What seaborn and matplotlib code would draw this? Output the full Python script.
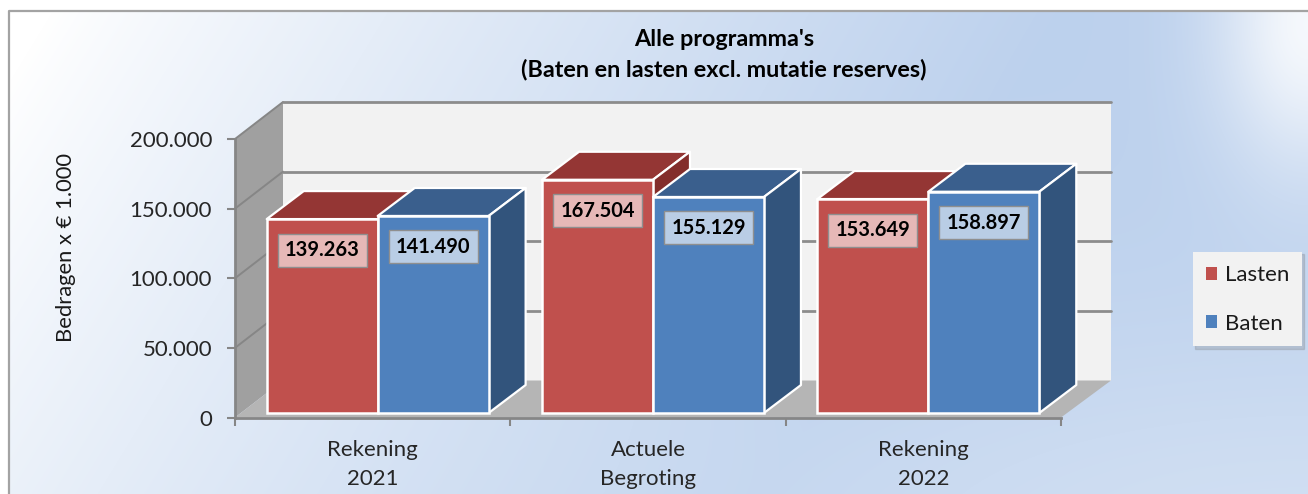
import numpy as np
import pandas as pd
import seaborn as sns
import matplotlib
matplotlib.use("Agg")
import matplotlib.pyplot as plt
from matplotlib.patches import Polygon, Rectangle
from matplotlib.transforms import Affine2D, IdentityTransform

categories = ["Rekening\n2021", "Actuele\nBegroting", "Rekening\n2022"]
lasten = [139263, 167504, 153649]
baten = [141490, 155129, 158897]
y_ticks = [0, 50000, 100000, 150000, 200000]

W, H = 1308, 494
RED, BLUE = "#C0504D", "#4F81BD"
shades = {"top": ["#943634", "#3A5F8D"], "side": ["#832D2B", "#32547C"], "box": ["#E6B8B7", "#B9CDE5"]}


def dotted(v):
    return f"{v:,.0f}".replace(",", ".")


sns.set_style("white")
plt.rcParams["font.family"] = ["Lato", "DejaVu Sans"]
plt.rcParams["text.color"] = "#1a1a1a"

fig = plt.figure(figsize=(W / 100, H / 100), dpi=100)

# background gradient, white at the left and blue towards the right
bg = fig.add_axes([0, 0, 1, 1], zorder=-1)
xx, yy = np.meshgrid(np.arange(W) / W, np.arange(H) / H)
t = np.clip(xx * 1.3 + yy * 0.3 - 0.06, 0, 1) ** 0.85
glow = np.exp(-(((xx - 1.0) / 0.07) ** 2 + ((yy - 0.05) / 0.3) ** 2))
low = np.exp(-(((xx - 1.0) / 0.5) ** 2 + ((yy - 1.1) / 0.45) ** 2))
t = t * (1 - 0.85 * glow) * (1 - 0.3 * low)
white, blue = np.array([1.0, 1.0, 1.0]), np.array([0.74, 0.82, 0.93])
img = white + (blue - white) * t[..., None]
img[:11, :] = 1
img[:, :9] = 1
bg.imshow(img, extent=(0, W, H, 0), aspect="auto")
bg.plot([9, 9, W], [H, 11, 11], color="#a3a3a3", lw=1.6)
bg.set_xlim(0, W)
bg.set_ylim(H, 0)
bg.axis("off")

ax = fig.add_axes([235 / W, (H - 417.5) / H, 826 / W, 278.5 / H])
ax.patch.set_alpha(0)

df = pd.DataFrame({"cat": categories * 2,
                   "val": lasten + baten,
                   "serie": ["Lasten"] * 3 + ["Baten"] * 3})
sns.barplot(data=df, x="cat", y="val", hue="serie", palette=[RED, BLUE], saturation=1,
            width=0.806, gap=0, ax=ax, edgecolor="white", linewidth=1.8)
ax.set_xlim(-0.5, 2.5)
ax.set_ylim(0, 200000)
ax.set_xlabel("")
ax.set_ylabel("")

# walls and floor, in pixels from the axes scale
x0, y0 = ax.transData.transform((-0.5, 0))
x1, y1 = ax.transData.transform((2.5, 200000))
px = IdentityTransform()
ax.add_patch(Polygon([(x0, y0), (x0 + 48, y0 + 37), (x0 + 48, y1 + 37), (x0, y1)],
                     fc="#A0A0A0", ec="none", transform=px, clip_on=False, zorder=0.1))
ax.add_patch(Polygon([(x0 + 48, y0 + 37), (x1 + 50, y0 + 37), (x1 + 50, y1 + 37), (x0 + 48, y1 + 37)],
                     fc="#F2F2F2", ec="none", transform=px, clip_on=False, zorder=0.1))
ax.add_patch(Polygon([(x0, y0), (x0 + 48, y0 + 37), (x1 + 50, y0 + 37), (x1, y0)],
                     fc="#B5B5B5", ec="none", transform=px, clip_on=False, zorder=0.2))
for v in y_ticks[1:]:
    yp = ax.transData.transform((0, v))[1]
    ax.plot([x0, x0 + 48], [yp, yp + 37], color="#868686", lw=1.4, transform=px, clip_on=False, zorder=0.3)
    ax.plot([x0 + 48, x1 + 50], [yp + 37, yp + 37], color="#8c8c8c", lw=2, transform=px, clip_on=False, zorder=0.3)

# 3d faces for each bar
dx, dy = 37, 28
shift = Affine2D().translate(5, 4.5)
for s, cont in enumerate(ax.containers):
    for i, bar in enumerate(cont):
        z = 2 + i * 4 + s
        bar.set_transform(ax.transData + shift)
        bar.set_clip_on(False)
        bar.set_zorder(z + 0.3)
        (xa, ya), (xb, yb) = ax.transData.transform(
            [(bar.get_x(), 0), (bar.get_x() + bar.get_width(), bar.get_height())])
        xa, xb, ya, yb = xa + 5, xb + 5, ya + 4.5, yb + 4.5
        ax.add_patch(Polygon([(xa, yb), (xa + dx, yb + dy), (xb + dx, yb + dy), (xb, yb)],
                             fc=shades["top"][s], ec="white", lw=1.6, joinstyle="round",
                             transform=px, clip_on=False, zorder=z + 0.1))
        ax.add_patch(Polygon([(xb, ya), (xb + dx, ya + dy), (xb + dx, yb + dy), (xb, yb)],
                             fc=shades["side"][s], ec="white", lw=1.6, joinstyle="round",
                             transform=px, clip_on=False, zorder=z + 0.2))
        cx, cy = (xa + xb) / 2, yb - 31
        ax.add_patch(Rectangle((cx - 44.5, cy - 16.5), 89, 33, fc=shades["box"][s], ec="#8f8f8f", lw=1,
                               transform=px, clip_on=False, zorder=49))
        ax.annotate(dotted(bar.get_height()), (cx, cy), xycoords=px,
                    ha="center", va="center", fontsize=14.5, fontweight="bold", color="black",
                    zorder=50, annotation_clip=False)

# axis lines and ticks
sns.despine(ax=ax, top=True, right=True)
for side in ["left", "bottom"]:
    ax.spines[side].set_color("#868686")
    ax.spines[side].set_linewidth(2)
    ax.spines[side].set_zorder(1)
ax.set_yticks(y_ticks, [dotted(v) for v in y_ticks])
ax.set_xticks([-0.5, 0.5, 1.5, 2.5], minor=True)
ax.tick_params(axis="x", which="major", length=0, pad=16.5, labelsize=16)
ax.tick_params(axis="x", which="minor", bottom=True, length=6, width=1.5, color="#868686")
ax.tick_params(axis="y", left=True, length=5.5, width=1.5, color="#868686", pad=11, labelsize=16)
for lab in ax.get_xticklabels():
    lab.set_linespacing(1.55)

handles, labels = ax.get_legend_handles_labels()
for h in handles:
    h.set_edgecolor("none")
leg = ax.legend(handles, labels, loc="lower left", bbox_to_anchor=(1193 / W, 1 - 346.5 / H),
                bbox_transform=fig.transFigure, borderaxespad=0, fontsize=16, frameon=True,
                fancybox=False, shadow={"ox": 1.5, "oy": -1.5, "alpha": 0.25, "shade": 0.5},
                facecolor="#F2F2F2", edgecolor="none", framealpha=1,
                handlelength=0.5, handleheight=0.5, handletextpad=0.36, labelspacing=1.28,
                borderpad=0.58)
leg.set_zorder(60)

fig.text(724 / W, 1 - 40 / H, "Alle programma's", ha="center", va="center", fontsize=16.8, fontweight="bold", color="black")
fig.text(724 / W, 1 - 69 / H, "(Baten en lasten excl. mutatie reserves)", ha="center", va="center",
         fontsize=16.8, fontweight="bold", color="black")
fig.text(66 / W, 1 - 247 / H, "Bedragen x € 1.000", rotation=90, ha="center", va="center", fontsize=15.8)

fig.savefig("out.png", dpi=100)
